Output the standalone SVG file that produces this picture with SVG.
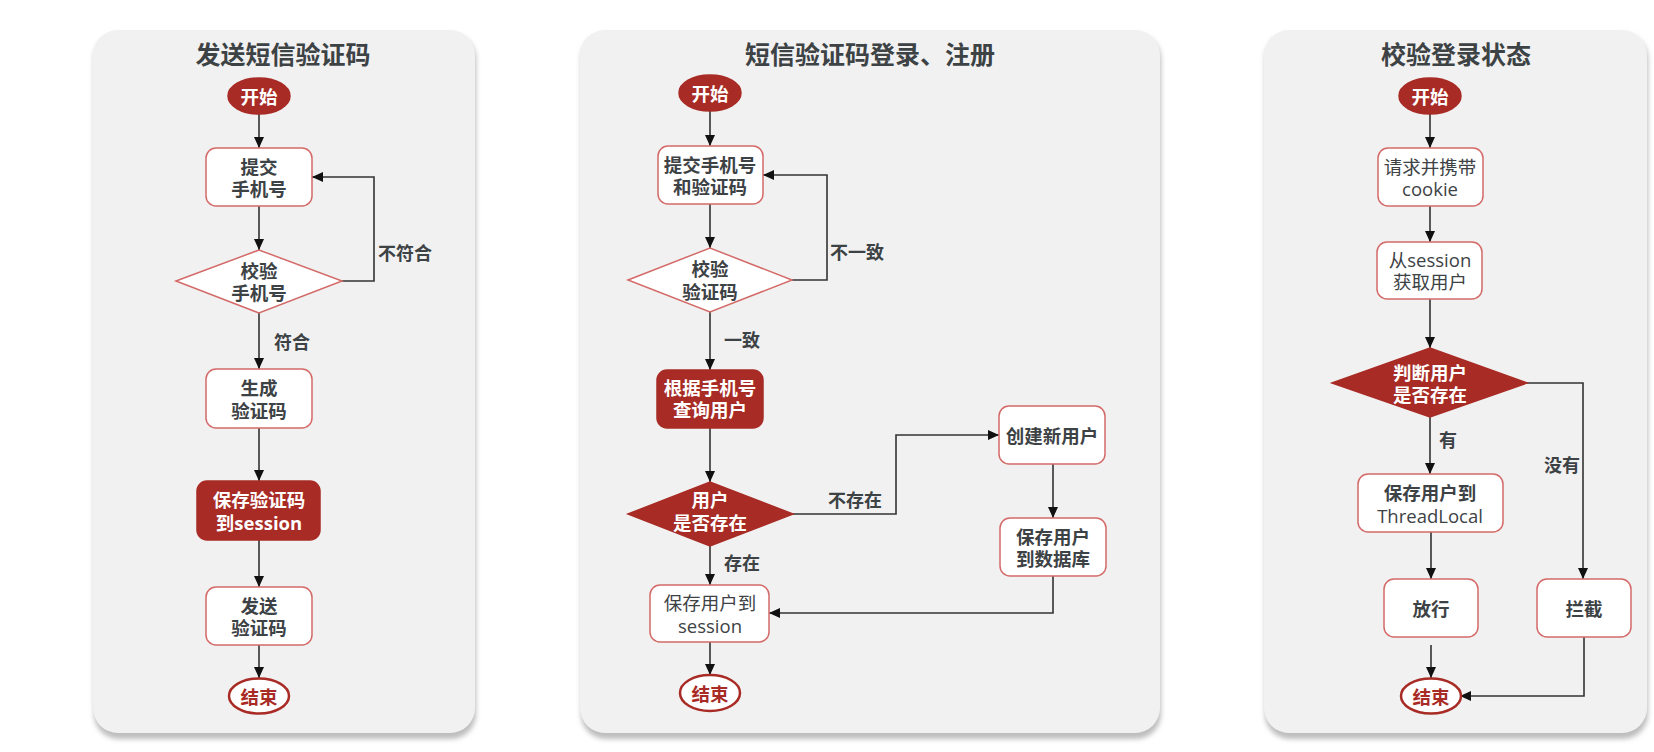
<svg xmlns="http://www.w3.org/2000/svg" width="1654" height="752" viewBox="0 0 1654 752">
<style>
text{font-family:"Open Sans","Noto Sans CJK SC",sans-serif;text-anchor:middle;dominant-baseline:central;}
.title{font-size:25px;font-weight:bold;fill:#3d4245;}
.t{font-size:18.5px;font-weight:bold;fill:#3d4245;}
.r{font-size:18.5px;font-weight:normal;fill:#3d4245;}
.w{font-size:18.5px;font-weight:bold;fill:#ffffff;}
.rt{font-size:18.5px;font-weight:bold;fill:#a82b25;}
.lbl{font-size:18px;font-weight:bold;fill:#3d4245;}
.panel{fill:#f1f1f1;}
.shadow{fill:#bdbdbd;}
.box{fill:#ffffff;stroke:#d46a68;stroke-width:1.5;}
.fill{fill:#a82b25;stroke:#a82b25;stroke-width:1.5;}
.end{fill:#ffffff;stroke:#a82b25;stroke-width:2.5;}
.c{fill:none;stroke:#333333;stroke-width:1.6;marker-end:url(#a);}
</style>
<defs>
<marker id="a" markerUnits="userSpaceOnUse" markerWidth="12" markerHeight="12" viewBox="0 0 12 12" refX="11" refY="6" orient="auto">
<path d="M0,1 L11,6 L0,11 z" fill="#111111"/>
</marker>
<filter id="blur" x="-5%" y="-5%" width="110%" height="110%"><feGaussianBlur stdDeviation="2.5"/></filter>
</defs>
<rect width="1654" height="752" fill="#ffffff"/>

<g id="panel1">
<rect class="shadow" x="94" y="34" width="382" height="705" rx="25" filter="url(#blur)"/>
<rect class="panel" x="93" y="30" width="382" height="703" rx="25"/>
<text class="title" x="283" y="54">发送短信验证码</text>
</g>
<g id="panel2">
<rect class="shadow" x="581" y="34" width="580" height="705" rx="25" filter="url(#blur)"/>
<rect class="panel" x="580" y="30" width="580" height="703" rx="25"/>
<text class="title" x="870" y="54">短信验证码登录、注册</text>
</g>
<g id="panel3">
<rect class="shadow" x="1265" y="34" width="383" height="705" rx="25" filter="url(#blur)"/>
<rect class="panel" x="1264" y="30" width="383" height="703" rx="25"/>
<text class="title" x="1456" y="54">校验登录状态</text>
</g>

<g id="connectors">
<path class="c" d="M259,114 V148"/>
<path class="c" d="M259,206 V250"/>
<path class="c" d="M342,281 H374 V177 H312"/>
<path class="c" d="M259,313 V369"/>
<path class="c" d="M259,428 V481"/>
<path class="c" d="M259,540 V587"/>
<path class="c" d="M259,645 V678"/>

<path class="c" d="M710,111 V146"/>
<path class="c" d="M710,204 V248"/>
<path class="c" d="M792,280 H827 V175 H763"/>
<path class="c" d="M710,312 V370"/>
<path class="c" d="M710,428 V482"/>
<path class="c" d="M793,514 H896 V435 H999"/>
<path class="c" d="M1053,464 V518"/>
<path class="c" d="M1053,576 V613 H769"/>
<path class="c" d="M710,546 V585"/>
<path class="c" d="M710,642 V675"/>

<path class="c" d="M1430,114 V148"/>
<path class="c" d="M1430,206 V242"/>
<path class="c" d="M1430,299 V348"/>
<path class="c" d="M1430,417 V474"/>
<path class="c" d="M1527,383 H1583 V579"/>
<path class="c" d="M1431,532 V579"/>
<path class="c" d="M1431,645 V678"/>
<path class="c" d="M1584,637 V696 H1460"/>

<text class="lbl" x="405" y="253">不符合</text>
<text class="lbl" x="292" y="342">符合</text>
<text class="lbl" x="857" y="252">不一致</text>
<text class="lbl" x="742" y="340">一致</text>
<text class="lbl" x="855" y="500">不存在</text>
<text class="lbl" x="742" y="563">存在</text>
<text class="lbl" x="1448" y="440">有</text>
<text class="lbl" x="1562" y="465">没有</text>
</g>

<g id="p1-start"><ellipse class="fill" cx="259" cy="96" rx="31" ry="18"/><text class="w" x="259" y="96">开始</text></g>
<g id="p1-submit"><rect class="box" x="206" y="148" width="106" height="58" rx="10"/><text class="t" x="259" y="166">提交</text><text class="t" x="259" y="188">手机号</text></g>
<g id="p1-check"><polygon class="box" points="176,281 259,250 342,281 259,313"/><text class="t" x="259" y="270">校验</text><text class="t" x="259" y="292">手机号</text></g>
<g id="p1-gen"><rect class="box" x="206" y="369" width="106" height="59" rx="10"/><text class="t" x="259" y="387">生成</text><text class="t" x="259" y="410">验证码</text></g>
<g id="p1-save"><rect class="fill" x="197" y="481" width="123" height="59" rx="10"/><text class="w" x="259" y="499">保存验证码</text><text class="w" x="259" y="522">到session</text></g>
<g id="p1-send"><rect class="box" x="206" y="587" width="106" height="58" rx="10"/><text class="t" x="259" y="605">发送</text><text class="t" x="259" y="627">验证码</text></g>
<g id="p1-end"><ellipse class="end" cx="259" cy="696" rx="30" ry="17.5"/><text class="rt" x="259" y="696">结束</text></g>

<g id="p2-start"><ellipse class="fill" cx="710" cy="93" rx="31" ry="18"/><text class="w" x="710" y="93">开始</text></g>
<g id="p2-submit"><rect class="box" x="658" y="146" width="105" height="58" rx="10"/><text class="t" x="710" y="164">提交手机号</text><text class="t" x="710" y="186">和验证码</text></g>
<g id="p2-check"><polygon class="box" points="628,280 710,248 792,280 710,312"/><text class="t" x="710" y="268">校验</text><text class="t" x="710" y="291">验证码</text></g>
<g id="p2-query"><rect class="fill" x="657" y="370" width="106" height="58" rx="10"/><text class="w" x="710" y="387">根据手机号</text><text class="w" x="710" y="409">查询用户</text></g>
<g id="p2-exists"><polygon class="fill" points="628,514 710,482 793,514 710,546"/><text class="w" x="710" y="499">用户</text><text class="w" x="710" y="522">是否存在</text></g>
<g id="p2-create"><rect class="box" x="999" y="406" width="106" height="58" rx="10"/><text class="t" x="1052" y="435">创建新用户</text></g>
<g id="p2-savedb"><rect class="box" x="1000" y="518" width="106" height="58" rx="10"/><text class="t" x="1053" y="536">保存用户</text><text class="t" x="1053" y="558">到数据库</text></g>
<g id="p2-savesession"><rect class="box" x="650" y="585" width="119" height="57" rx="10"/><text class="r" x="710" y="602">保存用户到</text><text class="r" x="710" y="625">session</text></g>
<g id="p2-end"><ellipse class="end" cx="710" cy="693" rx="30" ry="18"/><text class="rt" x="710" y="693">结束</text></g>

<g id="p3-start"><ellipse class="fill" cx="1430" cy="96" rx="31" ry="18"/><text class="w" x="1430" y="96">开始</text></g>
<g id="p3-request"><rect class="box" x="1378" y="148" width="105" height="58" rx="10"/><text class="r" x="1430" y="166">请求并携带</text><text class="r" x="1430" y="188">cookie</text></g>
<g id="p3-get"><rect class="box" x="1377" y="242" width="105" height="57" rx="10"/><text class="r" x="1430" y="259">从session</text><text class="r" x="1430" y="281">获取用户</text></g>
<g id="p3-judge"><polygon class="fill" points="1332,383 1430,348 1527,383 1430,417"/><text class="w" x="1430" y="372">判断用户</text><text class="w" x="1430" y="394">是否存在</text></g>
<g id="p3-save"><rect class="box" x="1358" y="474" width="145" height="58" rx="10"/><text class="t" x="1430" y="492">保存用户到</text><text class="r" x="1430" y="515">ThreadLocal</text></g>
<g id="p3-pass"><rect class="box" x="1384" y="579" width="94" height="58" rx="10"/><text class="t" x="1431" y="608">放行</text></g>
<g id="p3-block"><rect class="box" x="1537" y="579" width="94" height="58" rx="10"/><text class="t" x="1584" y="608">拦截</text></g>
<g id="p3-end"><ellipse class="end" cx="1431" cy="696" rx="30" ry="17.5"/><text class="rt" x="1431" y="696">结束</text></g>
</svg>
